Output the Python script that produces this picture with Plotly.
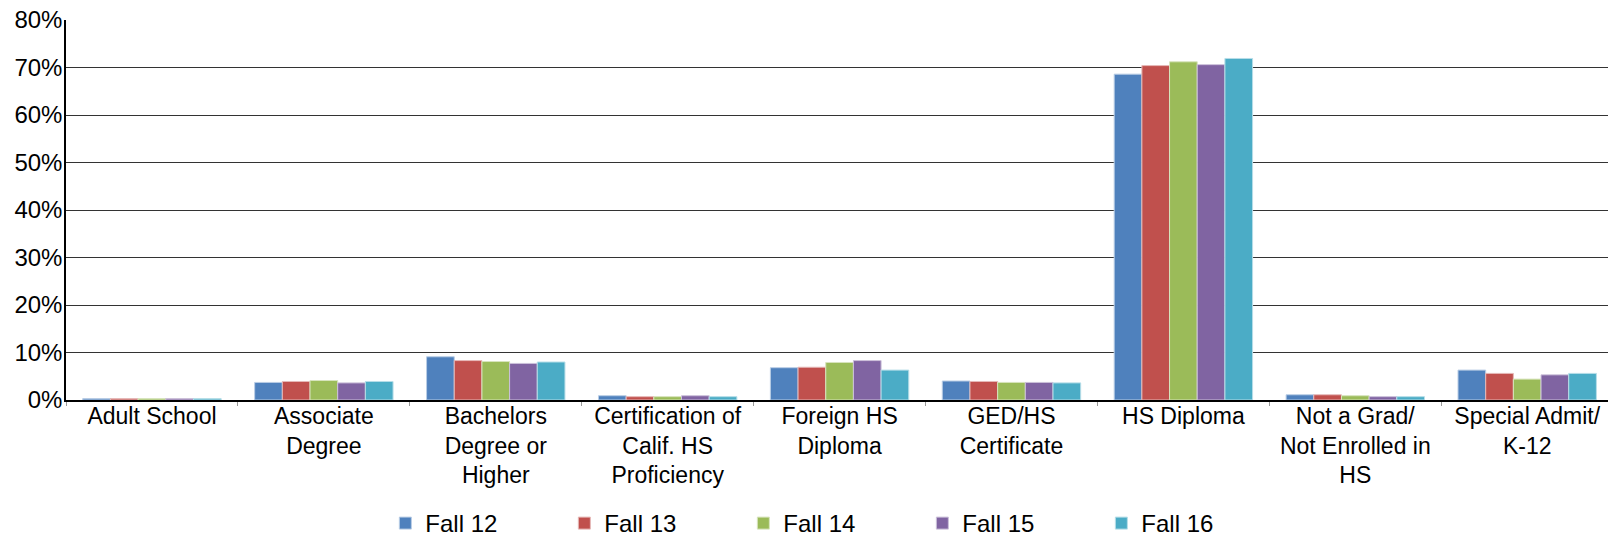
import plotly.graph_objects as go

categories = ["Adult School", "Associate<br>Degree", "Bachelors<br>Degree or<br>Higher",
              "Certification of<br>Calif. HS<br>Proficiency", "Foreign HS<br>Diploma",
              "GED/HS<br>Certificate", "HS Diploma", "Not a Grad/<br>Not Enrolled in<br>HS",
              "Special Admit/<br>K-12"]

fall12 = [0.3, 3.7, 9.1, 0.9, 6.8, 4.0, 68.6, 1.1, 6.3]
fall13 = [0.3, 3.9, 8.3, 0.7, 6.9, 3.9, 70.4, 1.1, 5.6]
fall14 = [0.3, 4.1, 8.1, 0.7, 7.9, 3.7, 71.2, 0.9, 4.4]
fall15 = [0.3, 3.6, 7.7, 0.9, 8.3, 3.7, 70.6, 0.7, 5.3]
fall16 = [0.3, 3.9, 8.0, 0.7, 6.3, 3.6, 71.9, 0.7, 5.6]

series_names = ["Fall 12", "Fall 13", "Fall 14", "Fall 15", "Fall 16"]
series_values = [fall12, fall13, fall14, fall15, fall16]
colors = ["#4F81BD", "#C0504D", "#9BBB59", "#8064A2", "#4BACC6"]
edge_colors = ["#B9CDE5", "#E6B9B8", "#D7E4BD", "#CCC1DA", "#B7DEE8"]

ytick_vals = [0, 10, 20, 30, 40, 50, 60, 70, 80]
ytick_text = ["0%", "10%", "20%", "30%", "40%", "50%", "60%", "70%", "80%"]

fig = go.Figure()
for name, vals, c, ec in zip(series_names, series_values, colors, edge_colors):
    fig.add_trace(go.Bar(
        x=categories, y=vals, name=name,
        marker=dict(color=c, line=dict(color=ec, width=1)),
    ))

FONT = "Liberation Sans, Arial, sans-serif"

fig.update_layout(
    width=1608, height=541,
    margin=dict(l=66, r=0, t=20, b=141, autoexpand=False),
    paper_bgcolor="white", plot_bgcolor="white",
    barmode="group", bargap=0.195, bargroupgap=0,
    font=dict(family=FONT, size=24, color="black"),
    showlegend=True,
    legend=dict(
        orientation="h", x=0.2071, xanchor="left", y=-0.325, yanchor="middle",
        font=dict(family=FONT, size=24, color="black"),
        entrywidth=134, entrywidthmode="pixels",
        traceorder="normal", bgcolor="rgba(0,0,0,0)",
    ),
    xaxis=dict(
        type="category", range=[-0.5, 8.47], automargin=False,
        showline=True, linecolor="black", linewidth=2,
        ticks="outside", tickson="boundaries", ticklen=4, tickcolor="#999999",
        ticklabelstandoff=-6,
        tickfont=dict(family=FONT, size=23, color="black"),
        showgrid=False, zeroline=False, fixedrange=True,
    ),
    yaxis=dict(
        range=[0, 80], tickmode="array", tickvals=ytick_vals, ticktext=ytick_text,
        automargin=False,
        showline=True, linecolor="black", linewidth=1.5,
        showgrid=True, gridcolor="#333333", gridwidth=1,
        ticks="", ticklabelstandoff=-3,
        tickfont=dict(family=FONT, size=24, color="black"),
        zeroline=False, fixedrange=True,
    ),
)

fig.write_html("out.html", config={"displayModeBar": False},
               post_script="document.body.style.margin='0';document.body.style.padding='0';")
